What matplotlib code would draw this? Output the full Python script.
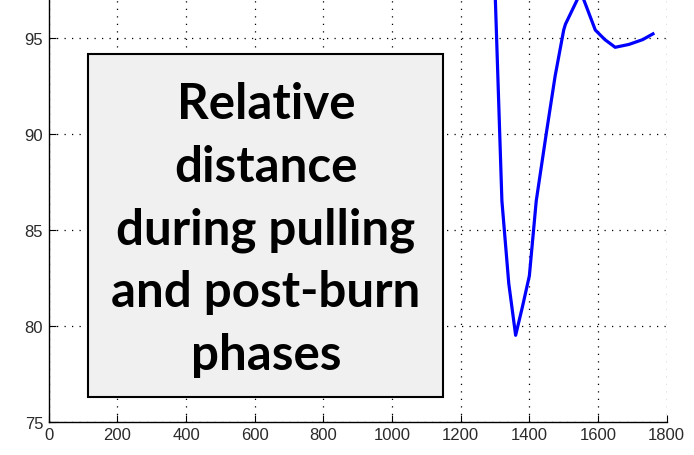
import matplotlib
matplotlib.use('Agg')
import matplotlib.pyplot as plt
from matplotlib.patches import Rectangle

# time vs relative distance (peak above frame is estimated)
time = [1290, 1300, 1320, 1340, 1360, 1380, 1400, 1420, 1450, 1475, 1500, 1505, 1540, 1550, 1558, 1592, 1620, 1650, 1690, 1730, 1760]
dist = [103.0, 97.5, 86.5, 82.2, 79.5, 81.0, 82.6, 86.5, 90.1, 93.0, 95.4, 95.7, 97.0, 98.0, 97.0, 95.4, 94.9, 94.5, 94.65, 94.9, 95.2]

xticks = [0, 200, 400, 600, 800, 1000, 1200, 1400, 1600, 1800]
yticks = [75, 80, 85, 90, 95]
note = "Relative\ndistance\nduring pulling\nand post-burn\nphases"

W, H = 694, 456
fig = plt.figure(figsize=(W / 100, H / 100), dpi=100)
# axes run up to y=100, above the visible canvas
ax = fig.add_axes([48.7 / W, 33.3 / H, 618 / W, 480 / H])

ax.plot(time, dist, color='#0000ff', lw=2.3)
ax.set_xlim(0, 1800)
ax.set_ylim(75, 100)
ax.set_xticks(xticks)
ax.set_yticks(yticks)

ax.grid(True, color='k', linestyle=(0, (1, 5)), lw=0.9)
ax.tick_params(direction='in', length=5, width=0.8, labelsize=12, labelcolor='#2a2a2a', pad=4)
for lab in ax.get_xticklabels() + ax.get_yticklabels():
    lab.set_family('Liberation Sans')
ax.spines['right'].set_visible(False)
ax.spines['top'].set_visible(False)
ax.spines['left'].set_linewidth(1.0)
ax.spines['bottom'].set_linewidth(1.0)

# grey box with the caption
x0, y0, x1, y1 = 88.3, 55, 443.3, 398.3
fig.patches.append(Rectangle((x0 / W, 1 - y1 / H), (x1 - x0) / W, (y1 - y0) / H,
                             transform=fig.transFigure, facecolor='#f0f0f0',
                             edgecolor='k', lw=1.5, zorder=5))
fig.text((x0 + x1) / 2 / W, 1 - 230 / H, note, ha='center', va='center',
         fontsize=35.5, fontweight='bold', family='Lato', linespacing=1.47, zorder=6)

fig.savefig('out.png', dpi=100)
